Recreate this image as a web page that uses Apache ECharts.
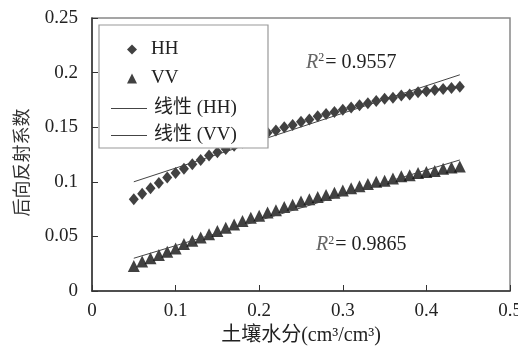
<!DOCTYPE html>
<html>
<head>
<meta charset="utf-8">
<script src="https://cdn.jsdelivr.net/npm/echarts@6/dist/echarts.min.js"></script>
<style>
  html, body { margin: 0; padding: 0; background: #fff; }
  #chart { width: 518px; height: 347px; }
</style>
</head>
<body>
<div id="chart"></div>
<script>
// Soil moisture (cm3/cm3) sampled every 0.01
const moisture = [0.05, 0.06, 0.07, 0.08, 0.09, 0.10, 0.11, 0.12, 0.13, 0.14,
                  0.15, 0.16, 0.17, 0.18, 0.19, 0.20, 0.21, 0.22, 0.23, 0.24,
                  0.25, 0.26, 0.27, 0.28, 0.29, 0.30, 0.31, 0.32, 0.33, 0.34,
                  0.35, 0.36, 0.37, 0.38, 0.39, 0.40, 0.41, 0.42, 0.43, 0.44];

// Backscatter coefficient, HH polarisation
const hhValues = [0.084, 0.089, 0.094, 0.099, 0.104, 0.108, 0.112, 0.116, 0.120, 0.124,
                  0.127, 0.130, 0.133, 0.136, 0.139, 0.142, 0.145, 0.147, 0.150, 0.152,
                  0.155, 0.157, 0.160, 0.162, 0.164, 0.166, 0.168, 0.170, 0.172, 0.174,
                  0.176, 0.177, 0.179, 0.180, 0.182, 0.183, 0.184, 0.185, 0.186, 0.187];

// Backscatter coefficient, VV polarisation
const vvValues = [0.023, 0.027, 0.030, 0.033, 0.036, 0.039, 0.043, 0.046, 0.049, 0.052,
                  0.055, 0.058, 0.061, 0.064, 0.067, 0.069, 0.072, 0.074, 0.077, 0.079,
                  0.082, 0.084, 0.086, 0.088, 0.090, 0.092, 0.094, 0.096, 0.098, 0.100,
                  0.101, 0.103, 0.105, 0.106, 0.108, 0.109, 0.110, 0.112, 0.113, 0.114];

// Linear trend lines (end points)
const fitX = [0.05, 0.44];
const hhFit = [0.100, 0.198];
const vvFit = [0.030, 0.120];

const hhR2 = '0.9557';
const vvR2 = '0.9865';
const hhR2Pos = [0.310, 0.209];
const vvR2Pos = [0.322, 0.042];

const xTicks = [0, 0.1, 0.2, 0.3, 0.4, 0.5];
const yTicks = [0, 0.05, 0.1, 0.15, 0.2, 0.25];

const serif = '"Liberation Serif", "Noto Sans CJK SC", serif';
const zip = (xs, ys) => xs.map((x, i) => [x, ys[i]]);
const lineIcon = 'path://M0,0 L36,0 L36,1 L0,1 Z';

const r2Label = (value) => ({
  show: true,
  position: 'inside',
  formatter: '{r|R}{s|2}{t|= ' + value + '}',
  rich: {
    r: { fontFamily: serif, fontStyle: 'italic', fontSize: 20, color: '#666' },
    s: { fontFamily: serif, fontSize: 12, color: '#444', verticalAlign: 'top', padding: [0, 1, 9, 0] },
    t: { fontFamily: serif, fontSize: 20, color: '#222' }
  }
});

const chart = echarts.init(document.getElementById('chart'), null, { renderer: 'canvas' });

chart.setOption({
  animation: false,
  backgroundColor: '#fff',
  grid: {
    left: 92, right: 8, top: 18, bottom: 56,
    outerBoundsMode: 'none', containLabel: false,
    show: true, borderColor: '#888', borderWidth: 1.5, backgroundColor: 'transparent'
  },
  xAxis: {
    type: 'value',
    min: xTicks[0], max: xTicks[xTicks.length - 1], interval: 0.1,
    name: '土壤水分(cm³/cm³)',
    nameLocation: 'middle', nameGap: 34,
    nameTextStyle: { fontFamily: serif, fontSize: 20, color: '#222' },
    axisLine: { lineStyle: { color: '#333', width: 1.5 } },
    axisTick: { inside: true, length: 6, lineStyle: { color: '#333' } },
    axisLabel: { fontFamily: serif, fontSize: 19, color: '#222', margin: 11,
                 formatter: v => String(+v.toFixed(2)) },
    splitLine: { show: false }
  },
  yAxis: {
    type: 'value',
    min: yTicks[0], max: yTicks[yTicks.length - 1], interval: 0.05,
    name: '后向反射系数',
    nameLocation: 'middle', nameGap: 62,
    nameTextStyle: { fontFamily: '"Noto Sans CJK SC", sans-serif', fontSize: 18, color: '#333',
                     padding: [0, 16, 0, 0] },
    axisLine: { lineStyle: { color: '#333', width: 1.5 } },
    axisTick: { inside: true, length: 6, lineStyle: { color: '#333' } },
    axisLabel: { fontFamily: serif, fontSize: 19, color: '#222', margin: 14,
                 formatter: v => String(+v.toFixed(2)) },
    splitLine: { show: false }
  },
  legend: [
    {
      data: [{ name: 'HH', icon: 'diamond' }, { name: 'VV', icon: 'triangle' }],
      orient: 'vertical', left: 122, top: 35,
      itemWidth: 10, itemHeight: 10, itemGap: 10,
      textStyle: { fontFamily: serif, fontSize: 19, color: '#222', padding: [0, 0, 0, 9] },
      z: 20
    },
    {
      data: [{ name: '线性 (HH)', icon: lineIcon }, { name: '线性 (VV)', icon: lineIcon }],
      orient: 'vertical', left: 106, top: 94,
      itemWidth: 36, itemHeight: 1.2, itemGap: 8,
      textStyle: { fontFamily: serif, fontSize: 19, color: '#222', padding: [0, 0, 0, 2] },
      z: 20
    }
  ],
  graphic: [
    {
      type: 'rect', z: 10,
      shape: { x: 99, y: 25, width: 169, height: 123 },
      style: { fill: '#fff', stroke: '#999', lineWidth: 1.2 }
    }
  ],
  series: [
    {
      name: 'HH', type: 'scatter', symbol: 'diamond', symbolSize: [10, 12],
      itemStyle: { color: '#111' },
      data: zip(moisture, hhValues), z: 3
    },
    {
      name: 'VV', type: 'scatter', symbol: 'triangle', symbolSize: 12,
      itemStyle: { color: '#111' },
      data: zip(moisture, vvValues), z: 3
    },
    {
      name: '线性 (HH)', type: 'line', showSymbol: false, symbol: 'none',
      lineStyle: { color: '#444', width: 1 }, itemStyle: { color: '#444' },
      data: zip(fitX, hhFit), z: 4,
      markPoint: {
        symbol: 'rect', symbolSize: 1,
        itemStyle: { color: 'rgba(0,0,0,0)' },
        data: [{ coord: hhR2Pos, label: r2Label(hhR2) }]
      }
    },
    {
      name: '线性 (VV)', type: 'line', showSymbol: false, symbol: 'none',
      lineStyle: { color: '#444', width: 1 }, itemStyle: { color: '#444' },
      data: zip(fitX, vvFit), z: 4,
      markPoint: {
        symbol: 'rect', symbolSize: 1,
        itemStyle: { color: 'rgba(0,0,0,0)' },
        data: [{ coord: vvR2Pos, label: r2Label(vvR2) }]
      }
    }
  ]
});
</script>
</body>
</html>
